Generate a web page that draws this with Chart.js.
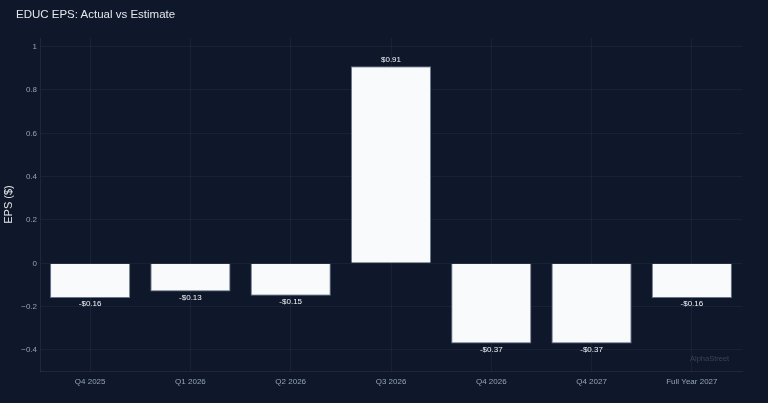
<!DOCTYPE html>
<html><head><meta charset="utf-8">
<script src="https://cdn.jsdelivr.net/npm/chart.js@4"></script>
<style>
html,body{margin:0;padding:0;background:#0f172a;}
#wrap{position:relative;width:768px;height:403px;}
#title{position:absolute;left:16px;top:9px;line-height:1;font-family:"Liberation Sans",Arial,sans-serif;font-size:11.5px;color:#e5e7eb;}
#wm{position:absolute;left:690px;top:355px;line-height:1;font-family:"Liberation Sans",Arial,sans-serif;font-size:7.5px;color:#3b4557;}
</style></head>
<body><div id="wrap"><canvas id="c" width="768" height="403"></canvas>
<div id="title">EDUC EPS: Actual vs Estimate</div><div id="wm">AlphaStreet</div></div>
<script>
const categories = ["Q4 2025","Q1 2026","Q2 2026","Q3 2026","Q4 2026","Q4 2027","Full Year 2027"];
const epsValues = [-0.16,-0.13,-0.15,0.91,-0.37,-0.37,-0.16];
const yTicks = [1,0.8,0.6,0.4,0.2,0,-0.2,-0.4];

const labelPlugin = {
  id:'barLabels',
  afterDatasetsDraw(chart){
    const ctx = chart.ctx;
    const meta = chart.getDatasetMeta(0);
    ctx.save();
    ctx.font = '8px "Liberation Sans", Arial, sans-serif';
    ctx.fillStyle = '#f1f5f9';
    ctx.textAlign = 'center';
    ctx.textBaseline = 'middle';
    meta.data.forEach((bar,i)=>{
      const v = epsValues[i];
      const txt = (v<0?'-$':'$') + Math.abs(v).toFixed(2);
      const y = v>=0 ? bar.y - 6 : bar.y + 6;
      ctx.fillText(txt, bar.x, y);
    });
    ctx.restore();
  }
};

new Chart(document.getElementById('c'), {
  type:'bar',
  data:{labels:categories, datasets:[{data:epsValues, backgroundColor:'#f8fafc', borderColor:'#64748b', borderWidth:1, categoryPercentage:0.8, barPercentage:1}]},
  options:{
    responsive:false, animation:false,
    layout:{padding:{top:38,right:26,left:0,bottom:0}},
    plugins:{legend:{display:false}, tooltip:{enabled:false}, title:{display:false}},
    scales:{
      x:{
        grid:{color:'rgba(148,163,184,0.08)', offset:false, drawTicks:false},
        border:{color:'rgba(148,163,184,0.12)'},
        ticks:{color:'#94a3b8', font:{size:8, family:'"Liberation Sans", Arial, sans-serif'}, padding:6, maxRotation:0},
        afterFit(s){ s.height = 32; }
      },
      y:{
        min:-0.497, max:1.04,
        afterBuildTicks(s){ s.ticks = yTicks.map(v=>({value:v})); },
        grid:{color:'rgba(148,163,184,0.08)', drawTicks:false},
        border:{color:'rgba(148,163,184,0.12)'},
        ticks:{color:'#94a3b8', font:{size:8, family:'"Liberation Sans", Arial, sans-serif'}, padding:3,
          callback:(v)=> v===0?'0':(v<0?'\u2212'+Math.abs(v):String(v))},
        title:{display:true, text:'EPS ($)', color:'#e5e7eb', font:{size:11, family:'"Liberation Sans", Arial, sans-serif'}, padding:{top:2,bottom:0}},
        afterFit(s){ s.width = 40; }
      }
    }
  },
  plugins:[labelPlugin]
});
</script></body></html>
